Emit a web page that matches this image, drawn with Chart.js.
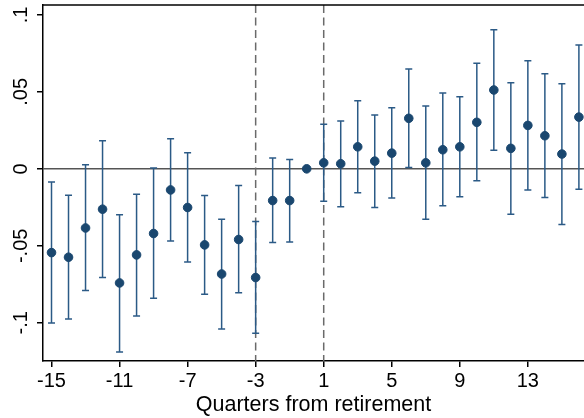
<!DOCTYPE html>
<html>
<head>
<meta charset="utf-8">
<script src="https://cdn.jsdelivr.net/npm/chart.js@4"></script>
<style>
  html, body { margin: 0; padding: 0; background: #fff; overflow: hidden; }
  #wrap { width: 584px; height: 418px; position: relative; }
  canvas { display: block; }
</style>
</head>
<body>
<div id="wrap"><canvas id="chart"></canvas></div>
<script>
// quarters relative to retirement
const quarters = [-15, -14, -13, -12, -11, -10, -9, -8, -7, -6, -5, -4, -3, -2, -1, 0,
  1, 2, 3, 4, 5, 6, 7, 8, 9, 10, 11, 12, 13, 14, 15, 16]
const estimates = [-0.0544, -0.0574, -0.0384, -0.0262, -0.0741, -0.0559, -0.042, -0.0137,
  -0.0251, -0.0494, -0.0683, -0.0459, -0.0706, -0.0206, -0.0206, 0,
  0.0039, 0.0033, 0.0143, 0.005, 0.0102, 0.0328, 0.0039, 0.0124,
  0.0143, 0.0302, 0.0512, 0.0133, 0.0282, 0.0215, 0.0096, 0.0336]
const ciUpper = [-0.0086, -0.0171, 0.0026, 0.0182, -0.0299, -0.0165, 0.0005, 0.0195,
  0.0104, -0.0173, -0.0327, -0.0108, -0.0342, 0.007, 0.0061, null,
  0.0289, 0.031, 0.0442, 0.0349, 0.0397, 0.0648, 0.0408, 0.0492,
  0.0468, 0.0685, 0.0904, 0.0559, 0.0702, 0.0618, 0.0553, 0.0804]
const ciLower = [-0.1001, -0.0975, -0.079, -0.0706, -0.119, -0.0956, -0.084, -0.0468,
  -0.0605, -0.0815, -0.104, -0.0804, -0.1068, -0.0479, -0.0475, null,
  -0.021, -0.0247, -0.0156, -0.0251, -0.019, 0.0009, -0.0327, -0.024,
  -0.0182, -0.0078, 0.012, -0.0295, -0.0137, -0.0186, -0.0362, -0.0132]

const xTickValues = [-15, -11, -7, -3, 1, 5, 9, 13]
const yTickValues = [-0.1, -0.05, 0, 0.05, 0.1]
const yTickLabels = ['-.1', '-.05', '0', '.05', '.1']
const eventLines = [-3, 1]

const FONT = '"Liberation Sans", Arial, Helvetica, sans-serif'
const navy = '#1a476f'
const barColor = '#2b5a86'

// reference lines, error bars, top border and rotated y labels
const decorations = {
  id: 'decorations',
  beforeDatasetsDraw(chart) {
    const { ctx, chartArea, scales: { x, y } } = chart
    ctx.save()

    // zero line
    const y0 = y.getPixelForValue(0)
    ctx.strokeStyle = '#555555'
    ctx.lineWidth = 1.5
    ctx.beginPath()
    ctx.moveTo(chartArea.left, y0)
    ctx.lineTo(chartArea.right, y0)
    ctx.stroke()

    // dashed event lines
    ctx.strokeStyle = '#6a6a6a'
    ctx.setLineDash([8, 4.5])
    eventLines.forEach(v => {
      const px = x.getPixelForValue(v)
      ctx.beginPath()
      ctx.moveTo(px, chartArea.top)
      ctx.lineTo(px, chartArea.bottom)
      ctx.stroke()
    })
    ctx.setLineDash([])

    // confidence intervals
    ctx.strokeStyle = barColor
    ctx.lineWidth = 1.5
    quarters.forEach((q, i) => {
      if (ciUpper[i] == null) return
      const px = x.getPixelForValue(q)
      const top = y.getPixelForValue(ciUpper[i])
      const bot = y.getPixelForValue(ciLower[i])
      ctx.beginPath()
      ctx.moveTo(px, top)
      ctx.lineTo(px, bot)
      ctx.moveTo(px - 3.5, top)
      ctx.lineTo(px + 3.5, top)
      ctx.moveTo(px - 3.5, bot)
      ctx.lineTo(px + 3.5, bot)
      ctx.stroke()
    })

    // top border of plot region
    ctx.strokeStyle = '#000'
    ctx.lineWidth = 1.5
    ctx.beginPath()
    ctx.moveTo(chartArea.left, chartArea.top)
    ctx.lineTo(chartArea.right, chartArea.top)
    ctx.stroke()

    // rotated y tick labels
    ctx.fillStyle = '#000'
    ctx.font = '20px ' + FONT
    ctx.textAlign = 'center'
    ctx.textBaseline = 'middle'
    yTickValues.forEach((v, i) => {
      const py = y.getPixelForValue(v)
      ctx.save()
      ctx.translate(21, py)
      ctx.rotate(-Math.PI / 2)
      ctx.fillText(yTickLabels[i], 0, 0)
      ctx.restore()
    })
    ctx.restore()
  }
}

new Chart(document.getElementById('chart'), {
  type: 'scatter',
  data: {
    datasets: [{
      data: quarters.map((q, i) => ({ x: q, y: estimates[i] })),
      backgroundColor: navy,
      borderColor: navy,
      pointRadius: 4.3,
      pointHoverRadius: 4.3
    }]
  },
  options: {
    responsive: true,
    maintainAspectRatio: false,
    animation: false,
    layout: { autoPadding: false, padding: { top: 5, right: 0, left: 0, bottom: 0 } },
    plugins: {
      legend: { display: false },
      tooltip: { enabled: false }
    },
    scales: {
      x: {
        type: 'linear',
        min: -15.5,
        max: 16.3,
        afterBuildTicks: scale => { scale.ticks = xTickValues.map(v => ({ value: v })) },
        afterFit: scale => {
          scale.height = 57
          scale.paddingLeft = 0
          scale.paddingRight = 0
        },
        grid: { drawOnChartArea: false, drawTicks: true, tickLength: 6, color: '#000', lineWidth: 1.5 },
        border: { display: true, color: '#000', width: 1.5 },
        ticks: {
          color: '#000',
          padding: 2,
          maxRotation: 0,
          autoSkip: false,
          font: { family: FONT, size: 20 },
          callback: v => String(v)
        },
        title: {
          display: true,
          text: 'Quarters from retirement',
          color: '#000',
          padding: { top: 0, bottom: 0 },
          font: { family: FONT, size: 21.5 }
        }
      },
      y: {
        type: 'linear',
        min: -0.1248,
        max: 0.1064,
        afterBuildTicks: scale => { scale.ticks = yTickValues.map(v => ({ value: v })) },
        afterFit: scale => {
          scale.width = 43
          scale.paddingTop = 0
          scale.paddingBottom = 0
        },
        grid: { drawOnChartArea: false, drawTicks: true, tickLength: 6, color: '#000', lineWidth: 1.5 },
        border: { display: true, color: '#000', width: 1.5 },
        ticks: { display: false }
      }
    }
  },
  plugins: [decorations]
})
</script>
</body>
</html>
